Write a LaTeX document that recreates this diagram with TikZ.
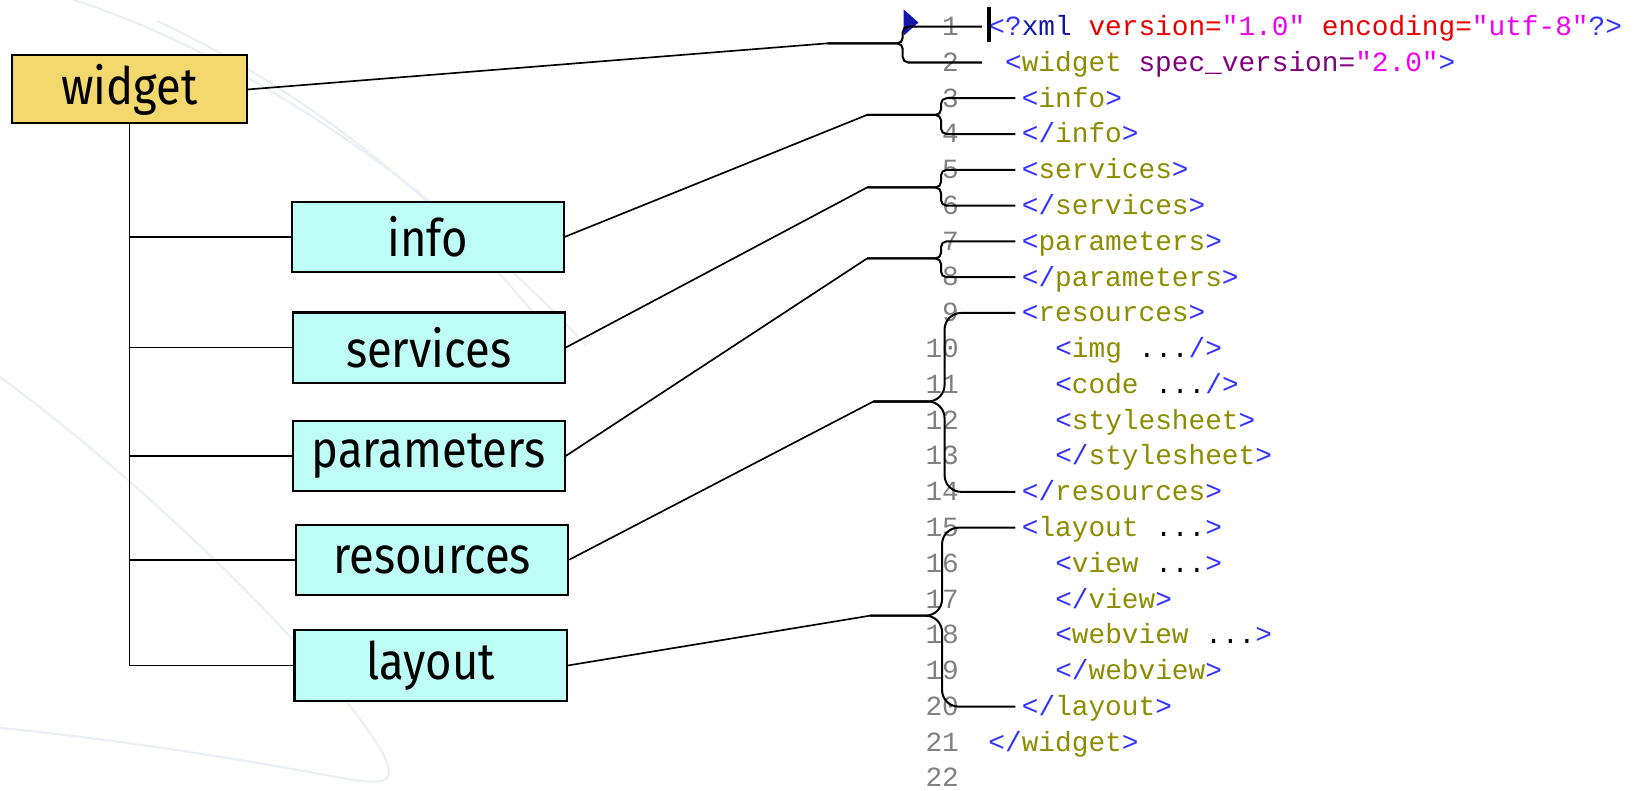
\documentclass[tikz,border=0pt]{standalone}
\usepackage{fontspec}
\setmainfont{Fira Sans}[FakeStretch=0.88]
\newfontfamily\codefont{Liberation Mono}
\definecolor{rootgold}{RGB}{243,216,110}
\definecolor{leafcyan}{RGB}{190,253,246}
\definecolor{codeblue}{RGB}{51,51,255}
\definecolor{tagolive}{RGB}{140,140,0}
\definecolor{attrred}{RGB}{235,0,0}
\definecolor{valmag}{RGB}{240,0,240}
\definecolor{specpurple}{RGB}{128,0,128}
\definecolor{xmlnavy}{RGB}{20,20,170}
\definecolor{numgray}{RGB}{128,128,128}
\definecolor{swoosh}{RGB}{236,240,246}
\newcommand\cbl[1]{\textcolor{codeblue}{#1}}
\newcommand\cta[1]{\textcolor{tagolive}{#1}}
\newcommand\cat[1]{\textcolor{attrred}{#1}}
\newcommand\cva[1]{\textcolor{valmag}{#1}}
\newcommand\cpu[1]{\textcolor{specpurple}{#1}}
\newcommand\cxm[1]{\textcolor{xmlnavy}{#1}}
\begin{document}
\begin{tikzpicture}[x=0.02cm, y=-0.02cm]
            \tikzset{box/.style={draw, line width=1.1pt, minimum width=5.2cm, minimum height=1.34cm, inner sep=0pt, font=\fontsize{28}{32}\selectfont},
                     root/.style={box, fill=rootgold, minimum width=4.48cm, minimum height=1.3cm},
                     leaf/.style={box, fill=leafcyan},
                     link/.style={line width=0.9pt},
                     bracearm/.style={line width=1.1pt, rounded corners=3pt},
                     widearm/.style={line width=1.1pt, rounded corners=9pt},
                     lnum/.style={anchor=base east, inner sep=0pt, text=numgray, font=\codefont\fontsize{15.1}{18}\selectfont},
                     codeline/.style={anchor=base west, inner xsep=3.4pt, inner ysep=0pt, text height=11pt, text depth=1.4pt, font=\codefont\fontsize{15.1}{18}\selectfont}}
            \useasboundingbox (0,0) rectangle (1568,754.4);
            \draw[swoosh, line width=1.2pt] (70,0) .. controls (230,50) and (420,180) .. (560,330);
            \draw[swoosh, line width=1.2pt] (150,20) .. controls (300,90) and (430,200) .. (510,300);
            \draw[swoosh, line width=1.2pt] (0,360) .. controls (150,470) and (320,640) .. (366,720) .. controls (380,750) and (370,752) .. (300,738) .. controls (200,720) and (100,705) .. (0,695);
            \node[root] (widget) at (123.8,85.4) {widget};
            \node[leaf] (info) at (408.6,226.1) {info};
            \node[leaf] (services) at (409.3,331.9) {services};
            \node[leaf] (parameters) at (409.3,435.4) {parameters};
            \node[leaf] (resources) at (412.6,534.5) {resources};
            \node[leaf] (layout) at (411.2,635.5) {layout};
            \draw[link] (widget.south) |- (layout.west);
            \draw[link] (widget.south |- info.west) -- (info.west);
            \draw[link] (widget.south |- services.west) -- (services.west);
            \draw[link] (widget.south |- parameters.west) -- (parameters.west);
            \draw[link] (widget.south |- resources.west) -- (resources.west);
            \foreach \n in {1,...,22}
                \node[lnum] (n\n) at (916, {33.9+(\n-1)*34.17}) {\n};
            \node[codeline] (c1) at (937.6,33.9) {\cbl{<?}\cxm{xml} \cat{version=}\cva{"1.0"} \cat{encoding=}\cva{"utf-8"}\cbl{?>}};
            \node[codeline] (c2) at (937.6,68.1) {\ \cbl{<}\cta{widget} \cpu{spec\_version=}\cva{"2.0"}\cbl{>}};
            \node[codeline] (c3) at (969.5,102.2) {\cbl{<}\cta{info}\cbl{>}};
            \node[codeline] (c4) at (969.5,136.4) {\cbl{</}\cta{info}\cbl{>}};
            \node[codeline] (c5) at (969.5,170.6) {\cbl{<}\cta{services}\cbl{>}};
            \node[codeline] (c6) at (969.5,204.8) {\cbl{</}\cta{services}\cbl{>}};
            \node[codeline] (c7) at (969.5,238.9) {\cbl{<}\cta{parameters}\cbl{>}};
            \node[codeline] (c8) at (969.5,273.1) {\cbl{</}\cta{parameters}\cbl{>}};
            \node[codeline] (c9) at (969.5,307.3) {\cbl{<}\cta{resources}\cbl{>}};
            \node[codeline] (c10) at (1001.4,341.4) {\cbl{<}\cta{img} ...\cbl{/>}};
            \node[codeline] (c11) at (1001.4,375.6) {\cbl{<}\cta{code} ...\cbl{/>}};
            \node[codeline] (c12) at (1001.4,409.8) {\cbl{<}\cta{stylesheet}\cbl{>}};
            \node[codeline] (c13) at (1001.4,444.0) {\cbl{</}\cta{stylesheet}\cbl{>}};
            \node[codeline] (c14) at (969.5,478.1) {\cbl{</}\cta{resources}\cbl{>}};
            \node[codeline] (c15) at (969.5,512.3) {\cbl{<}\cta{layout} ...\cbl{>}};
            \node[codeline] (c16) at (1001.4,546.5) {\cbl{<}\cta{view} ...\cbl{>}};
            \node[codeline] (c17) at (1001.4,580.6) {\cbl{</}\cta{view}\cbl{>}};
            \node[codeline] (c18) at (1001.4,614.8) {\cbl{<}\cta{webview} ...\cbl{>}};
            \node[codeline] (c19) at (1001.4,649.0) {\cbl{</}\cta{webview}\cbl{>}};
            \node[codeline] (c20) at (969.5,683.2) {\cbl{</}\cta{layout}\cbl{>}};
            \node[codeline] (c21) at (937.6,717.3) {\cbl{</}\cta{widget}\cbl{>}};
            \fill[xmlnavy] (863,9) -- (877,21.5) -- (863,34) -- cycle;
            \draw[line width=2.3pt] (944.5,6.3) -- (944.5,39.8);
            \coordinate (tipW) at (790,41.4);
            \coordinate (tipI) at (828,109.7);
            \coordinate (tipS) at (828,179);
            \coordinate (tipP) at (828,246.8);
            \coordinate (tipR) at (834,383.4);
            \coordinate (tipL) at (831,587.9);
            \draw[link] (widget.east) -- (tipW);
            \draw[link] (info.east) -- (tipI);
            \draw[link] (services.east) -- (tipS);
            \draw[link] (parameters.east) -- (tipP);
            \draw[link] (resources.east) -- (tipR);
            \draw[link] (layout.east) -- (tipL);
            \draw[bracearm] (c1.west) -| (862,41.4) -- (tipW);
            \draw[bracearm] (c2.west) -| (862,41.4) -- (tipW);
            \draw[bracearm] (c3.west) -| (898.6,109.7) -- (tipI);
            \draw[bracearm] (c4.west) -| (898.6,109.7) -- (tipI);
            \draw[bracearm] (c5.west) -| (898.6,179) -- (tipS);
            \draw[bracearm] (c6.west) -| (898.6,179) -- (tipS);
            \draw[bracearm] (c7.west) -| (898.6,246.8) -- (tipP);
            \draw[bracearm] (c8.west) -| (898.6,246.8) -- (tipP);
            \draw[widearm] (c9.west) -| (902,383.4) -- (tipR);
            \draw[widearm] (c14.west) -| (902,383.4) -- (tipR);
            \draw[widearm] (c15.west) -| (899.6,587.9) -- (tipL);
            \draw[widearm] (c20.west) -| (899.6,587.9) -- (tipL);
\end{tikzpicture}
\end{document}
